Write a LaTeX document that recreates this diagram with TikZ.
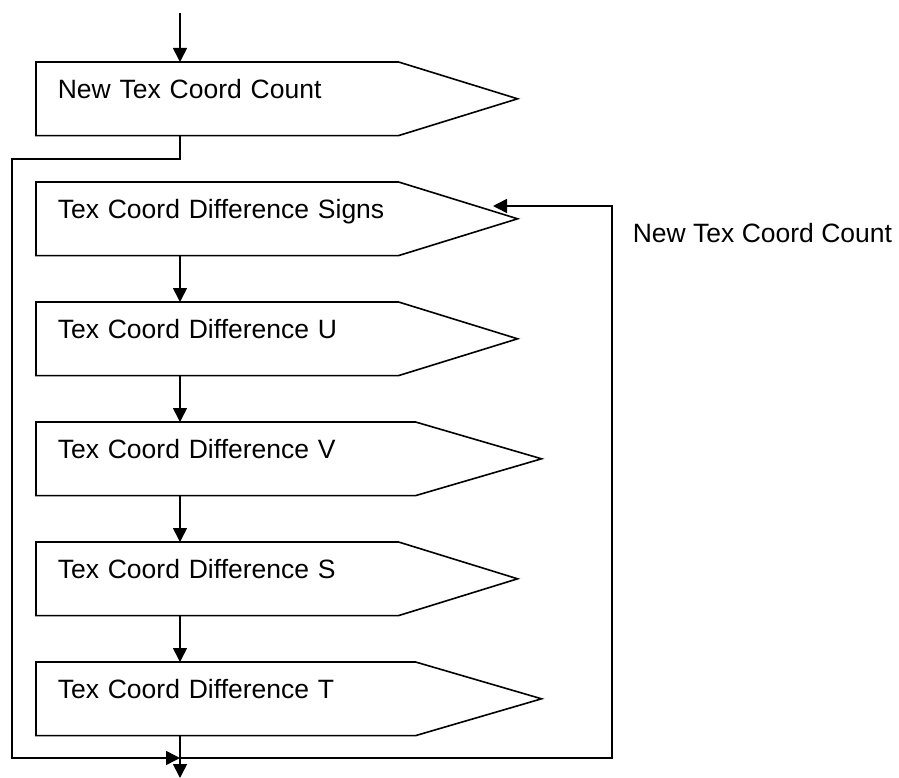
\documentclass[tikz,border=0pt]{standalone}
\usepackage{fontspec}
\setmainfont{Liberation Sans}
\usetikzlibrary{arrows.meta}

\begin{document}
\begin{tikzpicture}[x=1pt,y=-1pt,line width=1.6pt,
  blk/.style={anchor=north west,text width=#1,align=left,inner xsep=21pt,inner ysep=18pt,
    text height=18pt,text depth=18pt,font=\fontsize{26.5}{32}\selectfont},
  arr/.style={-{Triangle[length=14pt,width=14pt]}}]
\useasboundingbox (0,0) rectangle (899,778);

\node[blk=319pt] (nc) at (36,62) {New Tex Coord Count};
\node[blk=319pt] (sg) at (36,182) {\mbox{Tex Coord Difference Signs}};
\node[blk=319pt] (du) at (36,302) {Tex Coord Difference U};
\node[blk=336pt] (dv) at (36,422) {Tex Coord Difference V};
\node[blk=319pt] (ds) at (36,542) {Tex Coord Difference S};
\node[blk=336pt] (dt) at (36,662) {Tex Coord Difference T};

\draw (nc.north west) -- (nc.north east) -- ([xshift=119pt]nc.east) -- (nc.south east) -- (nc.south west) -- cycle;
\draw (sg.north west) -- (sg.north east) -- ([xshift=119pt]sg.east) -- (sg.south east) -- (sg.south west) -- cycle;
\draw (du.north west) -- (du.north east) -- ([xshift=119pt]du.east) -- (du.south east) -- (du.south west) -- cycle;
\draw (dv.north west) -- (dv.north east) -- ([xshift=126pt]dv.east) -- (dv.south east) -- (dv.south west) -- cycle;
\draw (ds.north west) -- (ds.north east) -- ([xshift=119pt]ds.east) -- (ds.south east) -- (ds.south west) -- cycle;
\draw (dt.north west) -- (dt.north east) -- ([xshift=126pt]dt.east) -- (dt.south east) -- (dt.south west) -- cycle;

\node[anchor=base west,inner sep=0pt,font=\fontsize{26.5}{32}\selectfont] (cnt) at (632,242) {New Tex Coord Count};

% flow down the middle
\coordinate (axis) at (180,13);
\coordinate (bl) at (12,159);
\coordinate (jn) at (180,758);
\coordinate (ret) at (612,206);
\coordinate (fb) at (493,206);
\coordinate (out) at (180,778);

\draw[arr] (axis) -- (axis |- nc.north);
\draw[arr] (axis |- nc.south) |- (bl) |- (jn);
\draw[arr] (axis |- sg.south) -- (axis |- du.north);
\draw[arr] (axis |- du.south) -- (axis |- dv.north);
\draw[arr] (axis |- dv.south) -- (axis |- ds.north);
\draw[arr] (axis |- ds.south) -- (axis |- dt.north);
\draw[arr] (axis |- dt.south) -- (out);
\draw[arr] (jn) -| (ret) -- (fb);
\end{tikzpicture}
\end{document}
